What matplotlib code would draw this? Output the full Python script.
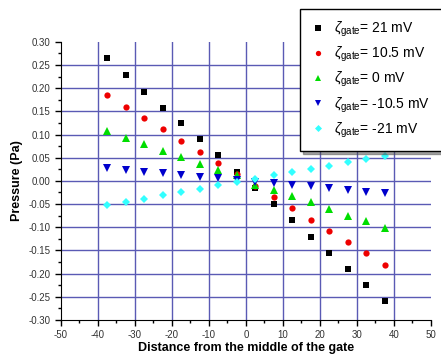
import matplotlib
matplotlib.use('Agg')
import matplotlib.pyplot as plt
from matplotlib.ticker import MultipleLocator

plt.rcParams['font.family'] = ['Liberation Sans', 'DejaVu Sans']
plt.rcParams['mathtext.fontset'] = 'custom'
plt.rcParams['mathtext.rm'] = 'Liberation Sans'
plt.rcParams['mathtext.it'] = 'Liberation Sans:italic'
plt.rcParams['axes.unicode_minus'] = False

# distance from the middle of the gate
x = [-37.5, -32.5, -27.5, -22.5, -17.5, -12.5, -7.5, -2.5,
     2.5, 7.5, 12.5, 17.5, 22.5, 27.5, 32.5, 37.5]

# pressure (Pa) for each gate zeta potential
p_21 = [0.264, 0.229, 0.192, 0.158, 0.125, 0.090, 0.055, 0.019,
        -0.015, -0.049, -0.085, -0.120, -0.155, -0.189, -0.224, -0.260]
p_10_5 = [0.185, 0.160, 0.135, 0.112, 0.087, 0.063, 0.039, 0.015,
          -0.012, -0.035, -0.058, -0.084, -0.107, -0.132, -0.156, -0.181]
p_0 = [0.108, 0.093, 0.080, 0.065, 0.051, 0.037, 0.024, 0.013,
       -0.008, -0.019, -0.033, -0.046, -0.061, -0.075, -0.087, -0.102]
p_m10_5 = [0.027, 0.023, 0.019, 0.016, 0.012, 0.009, 0.006, 0.003,
           -0.003, -0.005, -0.008, -0.012, -0.016, -0.020, -0.023, -0.027]
p_m21 = [-0.052, -0.045, -0.038, -0.031, -0.024, -0.017, -0.009, -0.002,
         0.005, 0.012, 0.019, 0.026, 0.033, 0.040, 0.047, 0.053]

labels = ['21', '10.5', '0', '-10.5', '-21']

fig = plt.figure(figsize=(4.41, 3.6), dpi=100)
ax = fig.add_axes([0.138, 0.111, 0.839, 0.773])

grid_col = '#5a5ab4'
for gx in range(-40, 41, 10):
    ax.axvline(gx, color=grid_col, lw=1.0, zorder=0)
for i in range(-5, 6):
    ax.axhline(i * 0.05, color=grid_col, lw=1.0, zorder=0)

series = [p_21, p_10_5, p_0, p_m10_5, p_m21]
markers = ['s', 'o', '^', 'v', 'D']
colors = ['black', '#ee0000', '#00dd00', '#0000cc', '#33ffff']
sizes = [4.5, 4.5, 5.2, 5.2, 4.2]
for ys, m, c, s, lab in zip(series, markers, colors, sizes, labels):
    ax.plot(x, ys, linestyle='none', marker=m, color=c, markersize=s,
            markeredgewidth=0, label=r'$\zeta_{\rm gate}$= ' + lab + ' mV', zorder=3)

ax.set_xlim(-50, 50)
ax.set_ylim(-0.30, 0.30)
ax.xaxis.set_major_locator(MultipleLocator(10))
ax.xaxis.set_minor_locator(MultipleLocator(5))
ax.yaxis.set_major_locator(MultipleLocator(0.05))
ax.yaxis.set_minor_locator(MultipleLocator(0.025))
ax.yaxis.set_major_formatter(plt.FormatStrFormatter('%.2f'))
ax.tick_params(which='major', direction='out', length=4, labelsize=7, width=1,
               labelcolor='#333333')
ax.tick_params(which='minor', direction='out', length=2, width=1)
ax.spines['top'].set_visible(False)
ax.spines['right'].set_visible(False)

ax.set_xlabel('Distance from the middle of the gate', fontsize=9, fontweight='bold', labelpad=1)
ax.set_ylabel('Pressure (Pa)', fontsize=9, fontweight='bold', labelpad=4)

leg = fig.legend(loc='upper left', bbox_to_anchor=(0.664, 0.995), fontsize=10,
                 frameon=True, fancybox=False, shadow=True, handletextpad=0.7,
                 labelspacing=0.42, borderpad=0.8, markerscale=0.85, handlelength=1.0)
leg.get_frame().set_edgecolor('black')
leg.get_frame().set_linewidth(1.0)

fig.savefig('out.png', dpi=100)
